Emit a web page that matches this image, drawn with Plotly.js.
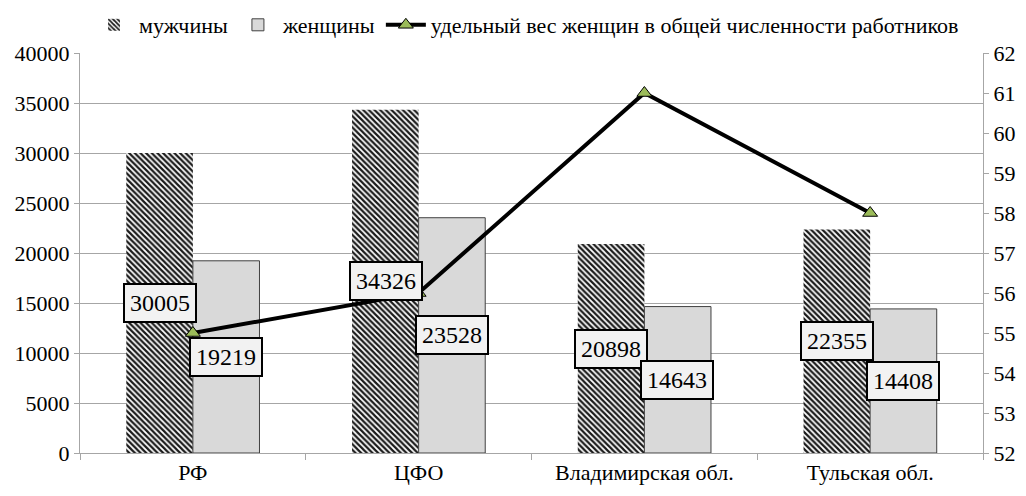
<!DOCTYPE html>
<html>
<head>
<meta charset="utf-8">
<script src="https://cdn.plot.ly/plotly-3.0.1.min.js"></script>
<style>
html,body{margin:0;padding:0;background:#fff;}
#chart{width:1026px;height:496px;}
</style>
</head>
<body>
<div id="chart"></div>
<script>
const categories = ["РФ", "ЦФО", "Владимирская обл.", "Тульская обл."];
const men = [30005, 34326, 20898, 22355];
const women = [19219, 23528, 14643, 14408];
const share = [55, 56, 61, 58];
const seriesNames = ["мужчины", "женщины", "удельный вес женщин в общей численности работников"];

const FONT = "Liberation Serif, serif";

const traces = [
  {
    type: "bar", name: seriesNames[0], x: categories, y: men,
    marker: {color: "#ffffff", line: {width: 0},
      pattern: {shape: "\\", size: 4, solidity: 0.55, fgcolor: "#1a1a1a", bgcolor: "#ffffff"}},
    hoverinfo: "y"
  },
  {
    type: "bar", name: seriesNames[1], x: categories, y: women,
    marker: {color: "#d9d9d9", line: {color: "#404040", width: 1}},
    hoverinfo: "y"
  },
  {
    type: "scatter", mode: "lines+markers", name: seriesNames[2], x: categories, y: share,
    yaxis: "y2",
    line: {color: "#000000", width: 4},
    marker: {symbol: "triangle-up", size: 13, color: "#9bbb59", line: {color: "#000000", width: 1}}
  }
];

const annotations = [];
function addLabels(vals, shift) {
  vals.forEach((v, i) => {
    annotations.push({
      x: categories[i], y: v / 2, xref: "x", yref: "y", xshift: shift,
      text: String(v), showarrow: false,
      font: {family: FONT, size: 24, color: "#000"},
      bgcolor: "#f2f2f2", bordercolor: "#000000", borderwidth: 2, borderpad: 5
    });
  });
}
addLabels(men, -33);
addLabels(women, 33);

const tickFont = {family: FONT, size: 22, color: "#000"};

const layout = {
  width: 1026, height: 496,
  margin: {l: 80, r: 43, t: 53, b: 43, autoexpand: false},
  paper_bgcolor: "#ffffff", plot_bgcolor: "#ffffff",
  font: {family: FONT, size: 20, color: "#000"},
  barmode: "group", bargap: 0.41, bargroupgap: 0,
  showlegend: true,
  legend: {orientation: "h", x: 0.01, xanchor: "left", y: 1.07, yanchor: "middle",
    font: {family: FONT, size: 22, color: "#000"}, itemwidth: 40, tracegroupgap: 0, traceorder: "normal"},
  xaxis: {
    type: "category", showline: true, linecolor: "#a6a6a6", linewidth: 1,
    ticks: "outside", tickson: "boundaries", ticklen: 6, tickcolor: "#a6a6a6",
    tickfont: tickFont, showgrid: false
  },
  yaxis: {
    range: [0, 40000], dtick: 5000, tickformat: "d", exponentformat: "none",
    showgrid: true, gridcolor: "#a6a6a6", gridwidth: 1,
    showline: true, linecolor: "#a6a6a6", ticks: "outside", ticklen: 5, tickcolor: "#a6a6a6",
    tickfont: tickFont, zeroline: false
  },
  yaxis2: {
    overlaying: "y", side: "right", range: [52, 62], dtick: 1, showgrid: false,
    showline: true, linecolor: "#a6a6a6", ticks: "outside", ticklen: 5, tickcolor: "#a6a6a6",
    tickfont: tickFont, zeroline: false
  },
  annotations: annotations
};

Plotly.newPlot("chart", traces, layout, {displayModeBar: false, staticPlot: true});
</script>
</body>
</html>
